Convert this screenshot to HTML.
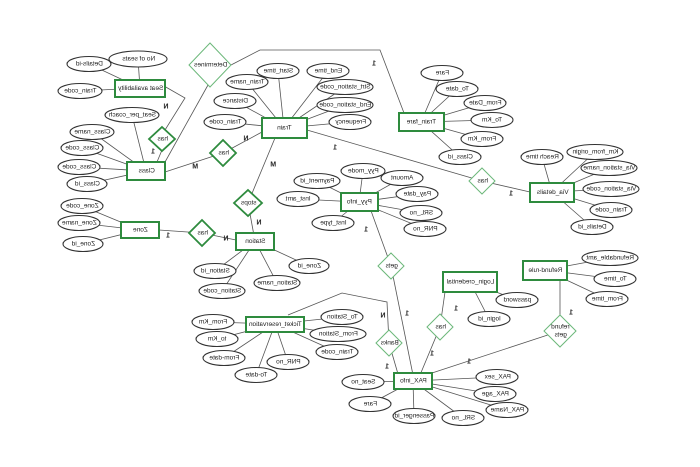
<!DOCTYPE html>
<html><head><meta charset="utf-8"><style>
html,body{margin:0;padding:0;background:#fff;}
svg{display:block;font-family:"Liberation Sans",sans-serif;}
text{font-size:6.5px;fill:#222;text-anchor:middle;dominant-baseline:central;transform-box:fill-box;transform-origin:center;transform:scaleX(-1);}
.l{stroke:#555;stroke-width:0.8;fill:none;}
ellipse{fill:#fff;stroke:#333;stroke-width:1.1;}
.e{fill:#fff;stroke:#2e8b3e;stroke-width:2;}
.d{fill:#fff;stroke:#2e8b3e;stroke-width:1.8;}
.dl{fill:#fff;stroke:#6cb87a;stroke-width:1;}
.c{font-size:7px;font-weight:bold;}
</style></head><body>
<svg width="700" height="467" viewBox="0 0 700 467">
<g class="l">
<!-- attribute lines -->
<path d="M140 88L89 64M140 88L138 59M140 88L80 91"/>
<path d="M146 171L132 115M146 171L92 132M146 171L82 148M146 171L79 167M146 171L87 184"/>
<path d="M140 230L82 206M140 230L79 223M140 230L83 244"/>
<path d="M284 128L247 82M284 128L278 71M284 128L328 71M284 128L345 87M284 128L345 105M284 128L235 101M284 128L225 122M284 128L350 122"/>
<path d="M359 202L317 181M359 202L363 171M359 202L298 199M359 202L333 223M359 202L402 178M359 202L417 194M359 202L421 213M359 202L425 229"/>
<path d="M421 122L442 73M421 122L457 89M421 122L485 103M421 122L492 120M421 122L482 139M421 122L460 157"/>
<path d="M552 192L542 157M552 192L595 152M552 192L609 168M552 192L611 189M552 192L611 210M552 192L592 227"/>
<path d="M255 241L215 271M255 241L222 291M255 241L277 283M255 241L309 266"/>
<path d="M545 270L610 258M545 270L615 279M545 270L607 299"/>
<path d="M470 282L517 300M470 282L489 319"/>
<path d="M275 324L213 322M275 324L217 339M275 324L224 358M275 324L256 375M275 324L288 362M275 324L342 317M275 324L338 334M275 324L337 352"/>
<path d="M413 381L363 382M413 381L370 404M413 381L414 416M413 381L463 418M413 381L507 410M413 381L495 394M413 381L497 377"/>
<!-- relationship lines -->
<path d="M231 65L260 50L380 50L404 113"/>
<path d="M208 85L160 171"/>
<path d="M164 86L185 98L165 130"/>
<path d="M162 150L157 162"/>
<path d="M165 172L223 153L262 132"/>
<path d="M275 138L248 203L255 241"/>
<path d="M159 230L202 233L236 240"/>
<path d="M307 130L482 181L530 192"/>
<path d="M370 208L391 266L413 375"/>
<path d="M288 315L342 293L387 302L389 343L398 374"/>
<path d="M445 292L440 327L420 375"/>
<path d="M560 280L560 331L432 373"/>
</g>
<!-- entities -->
<rect class="e" x="115" y="80" width="50" height="17"/><text x="140" y="88.5">Seat availability</text>
<rect class="e" x="127" y="162" width="38" height="18"/><text x="146" y="171">Class</text>
<rect class="e" x="262" y="118" width="45" height="20"/><text x="284" y="128">Train</text>
<rect class="e" x="121" y="222" width="38" height="16"/><text x="140" y="230">Zone</text>
<rect class="e" x="236" y="233" width="38" height="17"/><text x="255" y="241.5">Station</text>
<rect class="e" x="341" y="193" width="37" height="18"/><text x="359" y="202">Pyy_info</text>
<rect class="e" x="399" y="113" width="45" height="18"/><text x="421" y="122">Train_fare</text>
<rect class="e" x="530" y="183" width="44" height="19"/><text x="552" y="192.5">Via_details</text>
<rect class="e" x="443" y="272" width="54" height="20"/><text x="470" y="282">Login_credential</text>
<rect class="e" x="523" y="261" width="44" height="19"/><text x="545" y="270.5">Refund-rule</text>
<rect class="e" x="246" y="317" width="58" height="15"/><text x="275" y="324.5">Ticket_reservation</text>
<rect class="e" x="394" y="373" width="38" height="16"/><text x="413" y="381">PAX_info</text>
<!-- diamonds -->
<polygon class="dl" points="210,43 231,65 210,87 189,65"/><text x="210" y="65">Determines</text>
<polygon class="d" points="162,127 175,139 162,151 149,139"/><text x="162" y="139">has</text>
<polygon class="d" points="223,140 236,153 223,166 210,153"/><text x="223" y="153">has</text>
<polygon class="d" points="248,190 262,203 248,216 234,203"/><text x="248" y="203">stops</text>
<polygon class="d" points="202,220 215,233 202,246 189,233"/><text x="202" y="233">has</text>
<polygon class="dl" points="482,168 495,181 482,194 469,181"/><text x="482" y="181">has</text>
<polygon class="dl" points="391,253 404,266 391,279 378,266"/><text x="391" y="266">gets</text>
<polygon class="dl" points="389,330 402,343 389,356 376,343"/><text x="389" y="343">Banks</text>
<polygon class="dl" points="440,314 453,327 440,340 427,327"/><text x="440" y="327">has</text>
<polygon class="dl" points="560,315 576,331 560,347 544,331"/><text x="560" y="327">refund</text><text x="560" y="335">gets</text>
<!-- attributes -->
<ellipse cx="89" cy="64" rx="22" ry="7.5"/><text x="89" y="64">Details-id</text>
<ellipse cx="138" cy="59" rx="29" ry="8"/><text x="138" y="59">No of seats</text>
<ellipse cx="80" cy="91" rx="22" ry="7.5"/><text x="80" y="91">Train_code</text>
<ellipse cx="132" cy="115" rx="27" ry="7.5"/><text x="132" y="115">Seat_per_coach</text>
<ellipse cx="92" cy="132" rx="22" ry="7.5"/><text x="92" y="132">Class_name</text>
<ellipse cx="82" cy="148" rx="21" ry="7.5"/><text x="82" y="148">Class_code</text>
<ellipse cx="79" cy="167" rx="21" ry="7.5"/><text x="79" y="167">Class_code</text>
<ellipse cx="87" cy="184" rx="20" ry="7.5"/><text x="87" y="184">Class_id</text>
<ellipse cx="82" cy="206" rx="21" ry="7.5"/><text x="82" y="206">Zone_code</text>
<ellipse cx="79" cy="223" rx="21" ry="7.5"/><text x="79" y="223">Zone_name</text>
<ellipse cx="83" cy="244" rx="20" ry="7.5"/><text x="83" y="244">Zone_id</text>
<ellipse cx="247" cy="82" rx="21" ry="7.5"/><text x="247" y="82">Train_name</text>
<ellipse cx="278" cy="71" rx="21" ry="7.5"/><text x="278" y="71">Start_time</text>
<ellipse cx="328" cy="71" rx="21" ry="7.5"/><text x="328" y="71">End_time</text>
<ellipse cx="345" cy="87" rx="28" ry="7.5"/><text x="345" y="87">Strt_station_code</text>
<ellipse cx="345" cy="105" rx="28" ry="7.5"/><text x="345" y="105">End_station_code</text>
<ellipse cx="235" cy="101" rx="21" ry="7.5"/><text x="235" y="101">Distance</text>
<ellipse cx="225" cy="122" rx="21" ry="7.5"/><text x="225" y="122">Train_code</text>
<ellipse cx="350" cy="122" rx="21" ry="7.5"/><text x="350" y="122">Frequency</text>
<ellipse cx="317" cy="181" rx="23" ry="7.5"/><text x="317" y="181">Payment_id</text>
<ellipse cx="363" cy="171" rx="22" ry="7.5"/><text x="363" y="171">Pyy_mode</text>
<ellipse cx="298" cy="199" rx="21" ry="7.5"/><text x="298" y="199">Inst_amt</text>
<ellipse cx="333" cy="223" rx="21" ry="7.5"/><text x="333" y="223">Inst_type</text>
<ellipse cx="402" cy="178" rx="21" ry="7.5"/><text x="402" y="178">Amount</text>
<ellipse cx="417" cy="194" rx="21" ry="7.5"/><text x="417" y="194">Pay_date</text>
<ellipse cx="421" cy="213" rx="21" ry="7.5"/><text x="421" y="213">SRL_no</text>
<ellipse cx="425" cy="229" rx="21" ry="7.5"/><text x="425" y="229">PNR_no</text>
<ellipse cx="442" cy="73" rx="21" ry="7.5"/><text x="442" y="73">Fare</text>
<ellipse cx="457" cy="89" rx="21" ry="7.5"/><text x="457" y="89">To_date</text>
<ellipse cx="485" cy="103" rx="21" ry="7.5"/><text x="485" y="103">From_Date</text>
<ellipse cx="492" cy="120" rx="21" ry="7.5"/><text x="492" y="120">To_Km</text>
<ellipse cx="482" cy="139" rx="21" ry="7.5"/><text x="482" y="139">From_Km</text>
<ellipse cx="460" cy="157" rx="21" ry="7.5"/><text x="460" y="157">Class_id</text>
<ellipse cx="542" cy="157" rx="21" ry="7.5"/><text x="542" y="157">Reach time</text>
<ellipse cx="595" cy="152" rx="28" ry="7.5"/><text x="595" y="152">Km_from_origin</text>
<ellipse cx="609" cy="168" rx="28" ry="7.5"/><text x="609" y="168">Via_station_name</text>
<ellipse cx="611" cy="189" rx="28" ry="7.5"/><text x="611" y="189">Via_station_code</text>
<ellipse cx="611" cy="210" rx="21" ry="7.5"/><text x="611" y="210">Train_code</text>
<ellipse cx="592" cy="227" rx="21" ry="7.5"/><text x="592" y="227">Details_id</text>
<ellipse cx="215" cy="271" rx="21" ry="7.5"/><text x="215" y="271">Station_id</text>
<ellipse cx="222" cy="291" rx="23" ry="7.5"/><text x="222" y="291">Station_code</text>
<ellipse cx="277" cy="283" rx="23" ry="7.5"/><text x="277" y="283">Station_name</text>
<ellipse cx="309" cy="266" rx="20" ry="7.5"/><text x="309" y="266">Zone_id</text>
<ellipse cx="610" cy="258" rx="28" ry="7.5"/><text x="610" y="258">Refundable_amt</text>
<ellipse cx="615" cy="279" rx="21" ry="7.5"/><text x="615" y="279">To_time</text>
<ellipse cx="607" cy="299" rx="21" ry="7.5"/><text x="607" y="299">From_time</text>
<ellipse cx="517" cy="300" rx="21" ry="7.5"/><text x="517" y="300">password</text>
<ellipse cx="489" cy="319" rx="21" ry="7.5"/><text x="489" y="319">login_id</text>
<ellipse cx="213" cy="322" rx="21" ry="7.5"/><text x="213" y="322">From_Km</text>
<ellipse cx="217" cy="339" rx="21" ry="7.5"/><text x="217" y="339">to_Km</text>
<ellipse cx="224" cy="358" rx="21" ry="7.5"/><text x="224" y="358">From-date</text>
<ellipse cx="256" cy="375" rx="21" ry="7.5"/><text x="256" y="375">To-date</text>
<ellipse cx="288" cy="362" rx="21" ry="7.5"/><text x="288" y="362">PNR_no</text>
<ellipse cx="342" cy="317" rx="21" ry="7.5"/><text x="342" y="317">To_Station</text>
<ellipse cx="338" cy="334" rx="28" ry="7.5"/><text x="338" y="334">From_Station</text>
<ellipse cx="337" cy="352" rx="21" ry="7.5"/><text x="337" y="352">Train_code</text>
<ellipse cx="363" cy="382" rx="21" ry="7.5"/><text x="363" y="382">Seat_no</text>
<ellipse cx="370" cy="404" rx="21" ry="7.5"/><text x="370" y="404">Fare</text>
<ellipse cx="414" cy="416" rx="21" ry="7.5"/><text x="414" y="416">Passenger_id</text>
<ellipse cx="463" cy="418" rx="21" ry="7.5"/><text x="463" y="418">SRL_no</text>
<ellipse cx="507" cy="410" rx="21" ry="7.5"/><text x="507" y="410">PAX_Name</text>
<ellipse cx="495" cy="394" rx="21" ry="7.5"/><text x="495" y="394">PAX_age</text>
<ellipse cx="497" cy="377" rx="21" ry="7.5"/><text x="497" y="377">PAX_sex</text>
<!-- cardinalities -->
<text class="c" x="166" y="107">N</text><text class="c" x="153" y="152">1</text>
<text class="c" x="195" y="167">M</text><text class="c" x="246" y="139">N</text>
<text class="c" x="273" y="165">M</text><text class="c" x="259" y="223">N</text>
<text class="c" x="168" y="236">1</text><text class="c" x="226" y="239">N</text>
<text class="c" x="374" y="64">1</text><text class="c" x="335" y="148">1</text>
<text class="c" x="511" y="194">1</text><text class="c" x="366" y="230">1</text>
<text class="c" x="383" y="316">N</text><text class="c" x="407" y="314">1</text>
<text class="c" x="456" y="309">1</text><text class="c" x="432" y="354">1</text>
<text class="c" x="571" y="313">1</text><text class="c" x="469" y="362">1</text>
<text class="c" x="387" y="367">1</text>
</svg>
</body></html>
